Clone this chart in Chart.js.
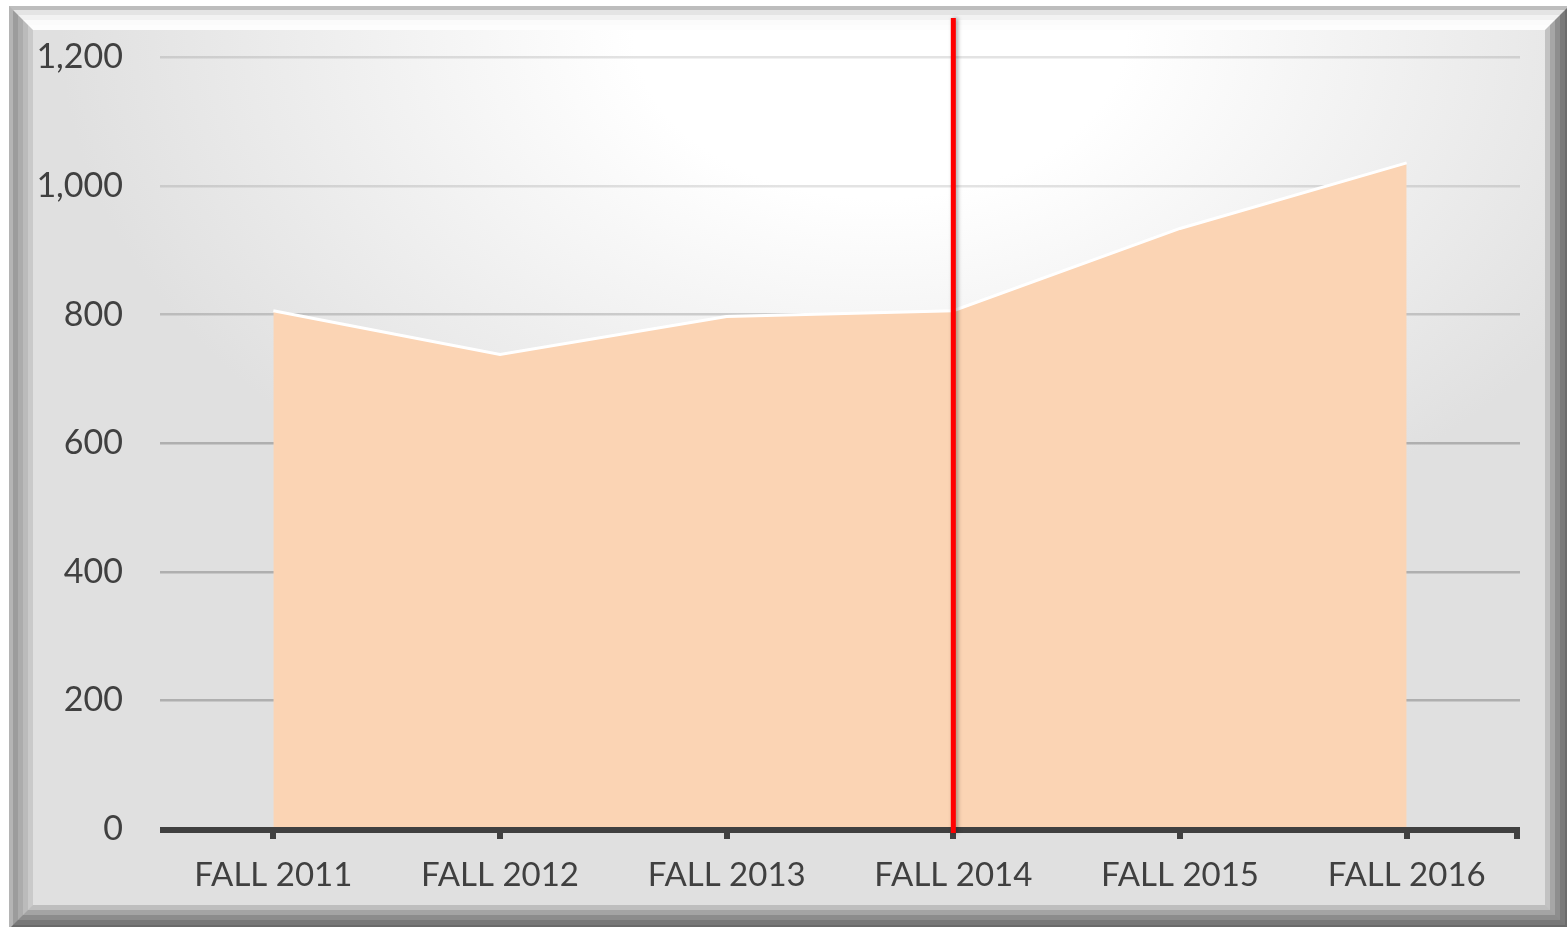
<!DOCTYPE html>
<html>
<head>
<meta charset="utf-8">
<script src="https://cdn.jsdelivr.net/npm/chart.js@4.4.1/dist/chart.umd.min.js"></script>
<style>
  html, body { margin: 0; padding: 0; background: #fff; }
  body { width: 1567px; height: 927px; position: relative; overflow: hidden; }
  .frame { position: absolute; left: 9px; top: 6px; width: 1560px; height: 923px; box-sizing: border-box; }
  .capa { width: 100%; height: 100%; box-sizing: border-box; border-style: solid; }
  .fondo {
    width: 100%; height: 100%;
    background: radial-gradient(ellipse 820px 560px at 56% 0%, #ffffff 0%, #ffffff 30%, #e0e0e0 100%);
  }
  canvas { position: absolute; left: 0; top: 0; }
</style>
</head>
<body>
<div class="frame" id="marco"></div>
<canvas id="grafica" width="1567" height="927"></canvas>
<script>
const categorias = ["FALL 2011", "FALL 2012", "FALL 2013", "FALL 2014", "FALL 2015", "FALL 2016"]
const valores = [806, 738, 797, 806, 934, 1036]
const ticksY = [0, 200, 400, 600, 800, 1000, 1200]
const marcaCategoria = "FALL 2014"

// marco biselado con capas de borde
const bordes = [
  { w: 4, t: '#bdbdbd', l: '#b4b4b4', r: '#6c6c6c', b: '#6a6a6a' },
  { w: 5, t: '#e4e4e4', l: '#9c9c9c', r: '#7a7a7a', b: '#787878' },
  { w: 5, t: '#f2f2f2', l: '#acacac', r: '#8e8e8e', b: '#8c8c8c' },
  { w: 5, t: '#fbfbfb', l: '#bbbbbb', r: '#a6a6a6', b: '#a4a4a4' },
  { w: 5, t: '#fdfdfd', l: '#cacaca', r: '#c2c2c2', b: '#bebebe' }
]
let padre = document.getElementById('marco')
bordes.forEach(b => {
  const d = document.createElement('div')
  d.className = 'capa'
  d.style.borderWidth = b.w + 'px'
  d.style.borderColor = `${b.t} ${b.r} ${b.b} ${b.l}`
  padre.appendChild(d)
  padre = d
})
const fondo = document.createElement('div')
fondo.className = 'fondo'
padre.appendChild(fondo)

const ctx = document.getElementById('grafica').getContext('2d')

// eje x oscuro con marcas y linea roja vertical
const plugEjes = {
  id: 'plugEjes',
  afterDatasetsDraw(chart) {
    const c = chart.ctx, a = chart.chartArea, x = chart.scales.x
    c.save()
    c.fillStyle = '#404040'
    c.fillRect(a.left, a.bottom - 2, a.right - a.left, 6)
    categorias.forEach((cat, i) => {
      const px = Math.round(x.getPixelForValue(i))
      c.fillRect(px - 3, a.bottom, 6, 10)
    })
    c.fillRect(a.right - 6, a.bottom, 6, 10)

    const px = x.getPixelForValue(categorias.indexOf(marcaCategoria))
    c.shadowColor = 'rgba(0,0,0,0.35)'
    c.shadowBlur = 4
    c.shadowOffsetX = 2
    c.fillStyle = '#ff0000'
    c.fillRect(px - 2.5, 18, 5, a.bottom + 4 - 18)
    c.restore()
  }
}

new Chart(ctx, {
  type: 'line',
  data: {
    labels: categorias,
    datasets: [{
      data: valores,
      fill: 'origin',
      backgroundColor: '#fbd4b4',
      borderColor: '#ffffff',
      borderWidth: 3,
      pointRadius: 0,
      tension: 0
    }]
  },
  options: {
    responsive: false,
    animation: false,
    layout: { padding: { left: 0, top: 57, right: 47, bottom: 0 } },
    plugins: { legend: { display: false }, tooltip: { enabled: false } },
    scales: {
      x: {
        offset: true,
        grid: { display: false },
        border: { display: false },
        ticks: { color: '#404040', font: { family: 'Lato', size: 33 }, padding: 19, maxRotation: 0 },
        afterFit(s) { s.height = 98 }
      },
      y: {
        min: 0,
        max: 1200,
        afterBuildTicks(s) { s.ticks = ticksY.map(v => ({ value: v })) },
        grid: {
          color: c => c.tick && c.tick.value >= 1000 ? 'rgba(0,0,0,0.11)' : (c.tick && c.tick.value >= 800 ? 'rgba(0,0,0,0.16)' : 'rgba(0,0,0,0.22)'),
          lineWidth: 2.5,
          drawTicks: false
        },
        border: { display: false },
        ticks: {
          color: '#404040', font: { family: 'Lato', size: 34 }, padding: 37,
          callback: v => v.toLocaleString('en-US')
        },
        afterFit(s) { s.width = 160 }
      }
    }
  },
  plugins: [plugEjes]
})
</script>
</body>
</html>
